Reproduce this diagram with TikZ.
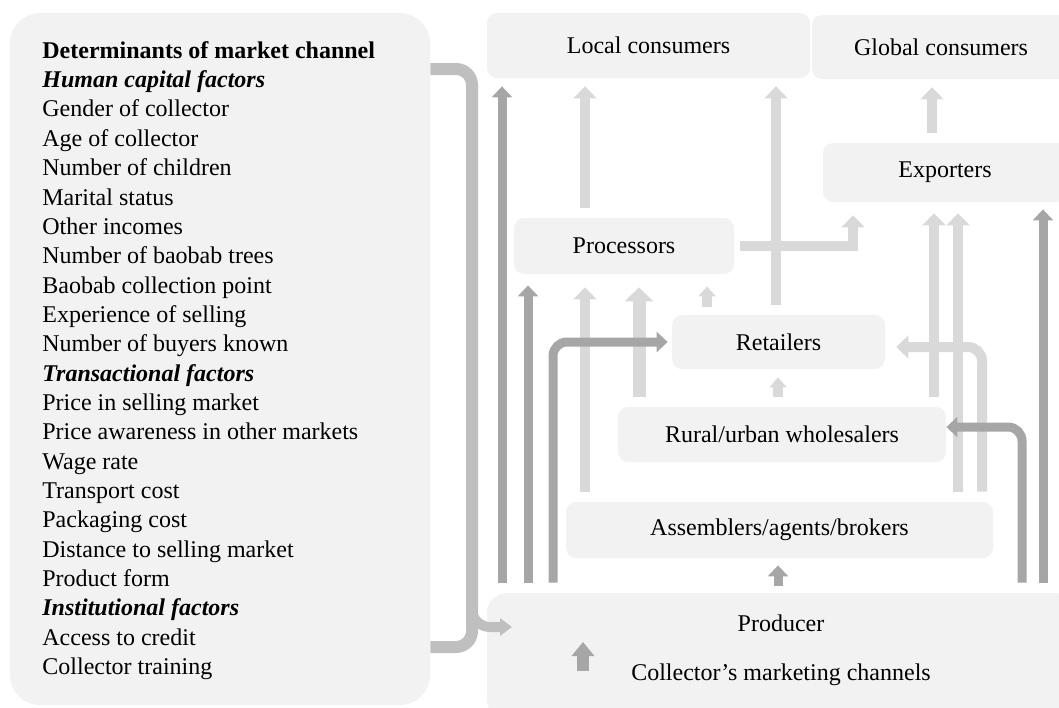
\documentclass[tikz,border=0pt]{standalone}
\usepackage{fontspec}
\setmainfont{Liberation Serif}
\usetikzlibrary{arrows.meta}
\definecolor{boxgray}{HTML}{F2F2F2}
\definecolor{lightflow}{HTML}{D9D9D9}
\definecolor{darkflow}{HTML}{A6A6A6}
\definecolor{linkgray}{HTML}{BFBFBF}

\begin{document}
\begin{tikzpicture}[x=0.5pt, y=-0.5pt, font=\fontsize{12}{14.67}\selectfont,
  stage/.style={rectangle, rounded corners=5pt, fill=boxgray, inner sep=0pt},
  light/.style={draw=lightflow, line width=5pt, -{Triangle[width=11.5pt,length=6pt]}, shorten <=5pt, shorten >=4pt},
  dark/.style={draw=darkflow, line width=4.5pt, -{Triangle[width=10pt,length=5.5pt]}, shorten <=5pt, shorten >=4pt},
  link/.style={draw=linkgray, line width=6pt}]

            \useasboundingbox (0,0) rectangle (1059,707);

            % Determinants panel
            \node[stage, rounded corners=15pt, minimum width=210pt, minimum height=346pt] (panel) at (220,359) {};
            \node[anchor=north west, align=left, inner sep=0pt] (factors) at (42,41) {\textbf{Determinants of market channel}\\
              \textbf{\textit{Human capital factors}}\\ Gender of collector\\ Age of collector\\ Number of children\\
              Marital status\\ Other incomes\\ Number of baobab trees\\ Baobab collection point\\ Experience of selling\\
              Number of buyers known\\ \textbf{\textit{Transactional factors}}\\ Price in selling market\\
              Price awareness in other markets\\ Wage rate\\ Transport cost\\ Packaging cost\\ Distance to selling market\\
              Product form\\ \textbf{\textit{Institutional factors}}\\ Access to credit\\ Collector training};

            % Channel actors
            \node[stage, minimum width=161.5pt, minimum height=32.5pt] (local) at (648.5,45.5) {Local consumers};
            \node[stage, minimum width=129pt, minimum height=32pt] (global) at (941,47) {Global consumers};
            \node[stage, minimum width=122pt, minimum height=29.5pt] (exporters) at (945,172.5) {Exporters};
            \node[stage, minimum width=110pt, minimum height=28pt] (processors) at (624,246) {Processors};
            \node[stage, minimum width=106.5pt, minimum height=27pt] (retailers) at (778.5,342) {Retailers};
            \node[stage, minimum width=164pt, minimum height=27.5pt] (wholesalers) at (782,434.5) {Rural/urban wholesalers};
            \node[stage, minimum width=213.5pt, minimum height=28pt] (assemblers) at (779.5,530) {Assemblers/agents/brokers};
            \node[stage, rounded corners=10pt, minimum width=294pt, minimum height=63.5pt] (producer) at (781,656.5) {};
            \node[inner sep=0pt] (producerlbl) at (781,623) {Producer};
            \node[inner sep=0pt] (channels) at (781,675) {Collector's marketing channels};

            % Light flows (intermediaries)
            \draw[light] (processors.north -| 585,0) -- (local.south -| 585,0);
            \draw[light] (retailers.north -| 776,0) -- (local.south -| 776,0);
            \draw[light] (exporters.north -| 932,0) -- (global.south -| 932,0);
            \draw[light, shorten >=6.5pt] (assemblers.north -| 585,0) -- (processors.south -| 585,0);
            \draw[light, line width=6.5pt, -{Triangle[width=14pt,length=7pt]}, shorten >=6.5pt] (wholesalers.north -| 639,0) -- (processors.south -| 639,0);
            \draw[light, -{Triangle[width=8.5pt,length=5pt]}, shorten <=4pt, shorten >=6pt] (retailers.north -| 707,0) -- (processors.south -| 707,0);
            \draw[light, shorten <=3pt, shorten >=6.5pt] (processors.east) -| (exporters.south -| 853,0);
            \draw[light, shorten >=5.5pt] (wholesalers.north -| 934,0) -- (exporters.south -| 934,0);
            \draw[light, shorten >=5.5pt] (assemblers.north -| 958,0) -- (exporters.south -| 958,0);
            \draw[light, rounded corners=7pt, shorten >=5.5pt] (assemblers.north -| 982,0) |- ([yshift=-2.5pt]retailers.east);
            \draw[light, -{Triangle[width=8.5pt,length=5pt]}] (wholesalers.north -| 778,0) -- (retailers.south -| 778,0);

            % Dark flows (from the producer)
            \draw[dark] (producer.north -| 502,0) -- (local.south -| 502,0);
            \draw[dark, shorten >=5.5pt] (producer.north -| 528,0) -- (processors.south -| 528,0);
            \draw[dark, rounded corners=7pt, shorten >=2pt] (producer.north -| 553,0) |- (retailers.west);
            \draw[dark, shorten <=3.5pt, shorten >=3.5pt] (producer.north -| 778,0) -- (assemblers.south -| 778,0);
            \draw[dark, rounded corners=7pt, shorten >=0pt] (producer.north -| 1022,0) |- ([yshift=3.75pt]wholesalers.east);
            \draw[dark, shorten >=3.5pt] (producer.north -| 1043,0) -- (exporters.south -| 1043,0);

            % Bracket from the determinants to the producer
            \coordinate (split) at (472,597);
            \coordinate (entry) at (512,627);
            \draw[link, rounded corners=8pt] (panel.east |- 0,69) -- (472,69) -- (472,647) -- (panel.east |- 0,647);
            \draw[link, line width=5pt, rounded corners=9pt, -{Triangle[width=8.5pt,length=6pt]}] (split) |- (entry);

            % Key arrow
            \coordinate (keytail) at (583,671);
            \coordinate (keyhead) at (583,642);
            \draw[draw=darkflow, line width=6pt, -{Triangle[width=11pt,length=7pt]}] (keytail) -- (keyhead);
            \end{tikzpicture}
\end{document}
